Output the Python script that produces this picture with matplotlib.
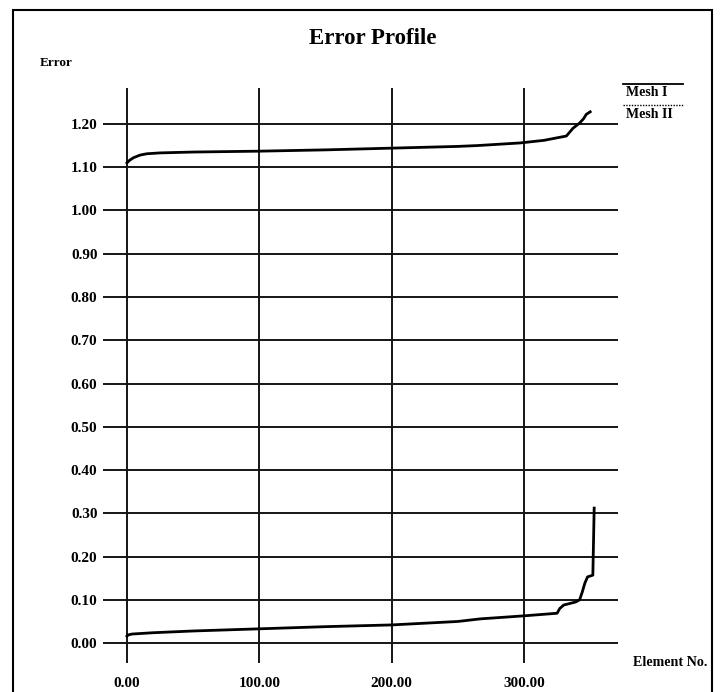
import matplotlib
matplotlib.use("Agg")
import matplotlib.pyplot as plt
from matplotlib.patches import Rectangle
from matplotlib.lines import Line2D

# Data (element number, error)
mesh1_x = [0, 2, 5, 10, 15, 25, 50, 100, 150, 200, 250, 265, 297, 315, 332, 337, 342, 345, 347, 350]
mesh1_y = [1.110, 1.116, 1.122, 1.128, 1.131, 1.133, 1.135, 1.137, 1.140, 1.144, 1.148, 1.150, 1.156, 1.162, 1.172, 1.190, 1.202, 1.212, 1.222, 1.228]

mesh2_x = [0, 1, 4, 20, 50, 100, 150, 200, 250, 267, 300, 325, 327, 330, 339, 342, 344, 346, 348, 352, 353]
mesh2_y = [0.016, 0.019, 0.021, 0.024, 0.028, 0.033, 0.038, 0.042, 0.050, 0.056, 0.063, 0.069, 0.080, 0.088, 0.095, 0.100, 0.118, 0.139, 0.153, 0.157, 0.312]

x_ticks = [0, 100, 200, 300]
x_labels = ["0.00", "100.00", "200.00", "300.00"]
y_ticks = [0.0, 0.1, 0.2, 0.3, 0.4, 0.5, 0.6, 0.7, 0.8, 0.9, 1.0, 1.1, 1.2]
y_labels = ["0.00", "0.10", "0.20", "0.30", "0.40", "0.50", "0.60", "0.70", "0.80", "0.90", "1.00", "1.10", "1.20"]
series_names = ["Mesh I", "Mesh II"]

FONT = "Liberation Serif"

W, H = 722, 692
fig = plt.figure(figsize=(W / 100, H / 100), dpi=100)
fig.patch.set_facecolor("white")

def fx(px):
    return px / W

def fy(py):
    return 1 - py / H

ax = fig.add_axes([fx(103), fy(663), fx(618) - fx(103), fy(88) - fy(663)])
ax.set_xlim(-18.1, 371)
ax.set_ylim(-0.046, 1.283)
for s in ax.spines.values():
    s.set_visible(False)

for yv in y_ticks:
    ax.axhline(yv, color="#151515", lw=1.4, zorder=1)
for xv in x_ticks:
    ax.axvline(xv, color="#151515", lw=1.4, zorder=1)

ax.plot(mesh1_x, mesh1_y, color="black", lw=2.0, zorder=3, solid_joinstyle="round")
ax.plot(mesh2_x, mesh2_y, color="black", lw=2.0, zorder=3, solid_joinstyle="round")

ax.set_xticks(x_ticks)
ax.set_xticklabels(x_labels)
ax.set_yticks(y_ticks)
ax.set_yticklabels(y_labels)
ax.tick_params(axis="both", length=0)
ax.tick_params(axis="y", pad=4)
ax.tick_params(axis="x", pad=10)
for lab in ax.get_xticklabels() + ax.get_yticklabels():
    lab.set_fontfamily(FONT)
    lab.set_fontweight("bold")
    lab.set_fontsize(11)

# Title and labels
fig.text(fx(373), fy(39), "Error Profile", ha="center", va="center",
         fontfamily=FONT, fontweight="bold", fontsize=16.5)
fig.text(fx(40), fy(63), "Error", ha="left", va="center",
         fontfamily=FONT, fontweight="bold", fontsize=9.5)
fig.text(fx(633), fy(662), "Element No.", ha="left", va="center",
         fontfamily=FONT, fontweight="bold", fontsize=10.2)

# Legend
fig.add_artist(Line2D([fx(623), fx(683)], [fy(84), fy(84)], color="black", lw=1.3))
fig.text(fx(626), fy(93), series_names[0], ha="left", va="center",
         fontfamily=FONT, fontweight="bold", fontsize=10)
fig.add_artist(Line2D([fx(623), fx(683)], [fy(105), fy(105)], color="black", lw=1.0,
                      linestyle=(0, (1, 1))))
fig.text(fx(626), fy(114), series_names[1], ha="left", va="center",
         fontfamily=FONT, fontweight="bold", fontsize=10)

# Outer frame
fig.add_artist(Rectangle((fx(13), -0.02), fx(712) - fx(13), fy(10) + 0.02,
                         transform=fig.transFigure, fill=False, edgecolor="black", lw=1.5))

fig.savefig("out.png", dpi=100)
